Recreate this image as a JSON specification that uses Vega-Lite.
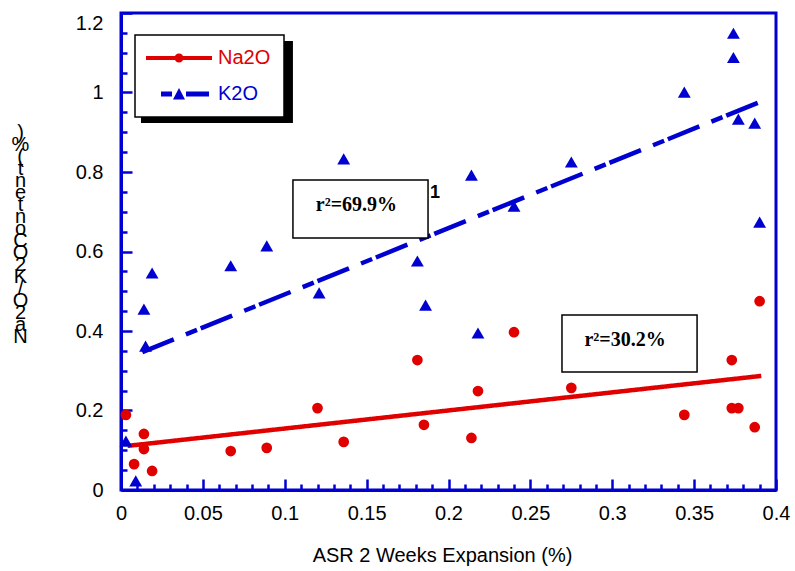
{
  "$schema": "https://vega.github.io/schema/vega-lite/v6.json",
  "width": 655,
  "height": 477,
  "autosize": "none",
  "padding": {"left": 121, "top": 13, "right": 19, "bottom": 81},
  "background": "white",
  "config": {
    "view": {"stroke": "#0000d0", "strokeWidth": 3},
    "font": "Liberation Sans"
  },
  "datasets": {
    "pts": [
      {"x": 0.003, "y": 0.189, "series": "Na2O"},
      {"x": 0.008, "y": 0.065, "series": "Na2O"},
      {"x": 0.014, "y": 0.141, "series": "Na2O"},
      {"x": 0.014, "y": 0.103, "series": "Na2O"},
      {"x": 0.019, "y": 0.048, "series": "Na2O"},
      {"x": 0.067, "y": 0.098, "series": "Na2O"},
      {"x": 0.089, "y": 0.106, "series": "Na2O"},
      {"x": 0.120, "y": 0.206, "series": "Na2O"},
      {"x": 0.136, "y": 0.121, "series": "Na2O"},
      {"x": 0.181, "y": 0.327, "series": "Na2O"},
      {"x": 0.185, "y": 0.164, "series": "Na2O"},
      {"x": 0.214, "y": 0.131, "series": "Na2O"},
      {"x": 0.218, "y": 0.249, "series": "Na2O"},
      {"x": 0.240, "y": 0.397, "series": "Na2O"},
      {"x": 0.275, "y": 0.257, "series": "Na2O"},
      {"x": 0.344, "y": 0.189, "series": "Na2O"},
      {"x": 0.373, "y": 0.327, "series": "Na2O"},
      {"x": 0.373, "y": 0.206, "series": "Na2O"},
      {"x": 0.377, "y": 0.206, "series": "Na2O"},
      {"x": 0.387, "y": 0.158, "series": "Na2O"},
      {"x": 0.390, "y": 0.475, "series": "Na2O"},
      {"x": 0.003, "y": 0.123, "series": "K2O"},
      {"x": 0.009, "y": 0.023, "series": "K2O"},
      {"x": 0.015, "y": 0.362, "series": "K2O"},
      {"x": 0.014, "y": 0.455, "series": "K2O"},
      {"x": 0.019, "y": 0.546, "series": "K2O"},
      {"x": 0.067, "y": 0.564, "series": "K2O"},
      {"x": 0.089, "y": 0.614, "series": "K2O"},
      {"x": 0.121, "y": 0.496, "series": "K2O"},
      {"x": 0.136, "y": 0.833, "series": "K2O"},
      {"x": 0.181, "y": 0.576, "series": "K2O"},
      {"x": 0.186, "y": 0.465, "series": "K2O"},
      {"x": 0.214, "y": 0.792, "series": "K2O"},
      {"x": 0.218, "y": 0.395, "series": "K2O"},
      {"x": 0.240, "y": 0.714, "series": "K2O"},
      {"x": 0.275, "y": 0.825, "series": "K2O"},
      {"x": 0.344, "y": 1.001, "series": "K2O"},
      {"x": 0.374, "y": 1.149, "series": "K2O"},
      {"x": 0.374, "y": 1.088, "series": "K2O"},
      {"x": 0.377, "y": 0.933, "series": "K2O"},
      {"x": 0.387, "y": 0.923, "series": "K2O"},
      {"x": 0.390, "y": 0.674, "series": "K2O"}
    ],
    "fit": [
      {"x": 0.004, "y": 0.111, "series": "Na2O"},
      {"x": 0.391, "y": 0.287, "series": "Na2O"},
      {"x": 0.013, "y": 0.347, "series": "K2O"},
      {"x": 0.390, "y": 0.976, "series": "K2O"}
    ],
    "shadow": [
      {"x": 0.0122, "x2": 0.1050, "y": 1.1296, "y2": 0.9233}
    ],
    "boxes": [
      {"x": 0.105, "x2": 0.1875, "y": 0.780, "y2": 0.634},
      {"x": 0.2693, "x2": 0.3518, "y": 0.440, "y2": 0.297}
    ],
    "rlabels": [
      {"x": 0.1438, "y": 0.717, "text": "r²=69.9%"},
      {"x": 0.3078, "y": 0.377, "text": "r²=30.2%"}
    ],
    "ones": [
      {"x": 0.1918, "y": 0.747, "text": "1"}
    ]
  },
  "encoding": {
    "x": {
      "field": "x",
      "type": "quantitative",
      "scale": {"domain": [0, 0.4], "nice": false, "zero": false},
      "axis": {
        "values": [0, 0.01, 0.02, 0.03, 0.04, 0.05, 0.06, 0.07, 0.08, 0.09, 0.1, 0.11, 0.12, 0.13, 0.14, 0.15, 0.16, 0.17, 0.18, 0.19, 0.2, 0.21, 0.22, 0.23, 0.24, 0.25, 0.26, 0.27, 0.28, 0.29, 0.3, 0.31, 0.32, 0.33, 0.34, 0.35, 0.36, 0.37, 0.38, 0.39, 0.4],
        "title": "ASR 2 Weeks Expansion (%)",
        "grid": false,
        "domainColor": "#0000d0",
        "domainWidth": 3,
        "tickColor": "#0000d0",
        "tickWidth": 2.5,
        "tickSize": {"condition": {"test": "round(datum.value*100) % 5 === 0", "value": -11}, "value": -6},
        "labelExpr": "round(datum.value*100) % 5 === 0 ? format(datum.value, '~g') : ''",
        "labelFont": "Liberation Sans",
        "labelFontSize": 20,
        "labelColor": "black",
        "labelPadding": 24.5,
        "labelFlush": false,
        "labelOverlap": false,
        "titleFont": "Liberation Sans",
        "titleFontSize": 20,
        "titleFontWeight": "normal",
        "titleColor": "black",
        "titleBaseline": "top",
        "titleX": 321,
        "titleY": 55
      }
    },
    "y": {
      "field": "y",
      "type": "quantitative",
      "scale": {"domain": [0, 1.2], "nice": false, "zero": false},
      "axis": {
        "values": [0, 0.05, 0.1, 0.15, 0.2, 0.25, 0.3, 0.35, 0.4, 0.45, 0.5, 0.55, 0.6, 0.65, 0.7, 0.75, 0.8, 0.85, 0.9, 0.95, 1, 1.05, 1.1, 1.15, 1.2],
        "title": [")", "%", "(", "t", "n", "e", "t", "n", "o", "C", "O", "\u00a0\u00a0\u00a02", "K", "/", "O", "\u00a0\u00a0\u00a02", "a", "N"],
        "grid": false,
        "domainColor": "#0000d0",
        "domainWidth": 3,
        "tickColor": "#0000d0",
        "tickWidth": 2.5,
        "tickSize": {"condition": {"test": "round(datum.value*20) % 4 === 0", "value": -11}, "value": -6},
        "labelExpr": "round(datum.value*20) % 4 === 0 ? format(datum.value, '~g') : ''",
        "labelBaseline": {"condition": {"test": "datum.value > 1.19", "value": "top"}, "value": "middle"},
        "labelFont": "Liberation Sans",
        "labelFontSize": 20,
        "labelColor": "black",
        "labelPadding": 29,
        "labelFlush": false,
        "labelOverlap": false,
        "titleFont": "Liberation Sans",
        "titleFontSize": 20,
        "titleFontWeight": "normal",
        "titleColor": "black",
        "titleAngle": 0,
        "titleAlign": "center",
        "titleBaseline": "top",
        "titleLineHeight": 12,
        "titleX": -101,
        "titleY": 109
      }
    }
  },
  "layer": [
    {
      "data": {"name": "shadow"},
      "mark": {"type": "rect", "color": "black"},
      "encoding": {"x2": {"field": "x2"}, "y2": {"field": "y2"}}
    },
    {
      "data": {"name": "fit"},
      "mark": {"type": "line", "strokeWidth": 4.5, "strokeCap": "butt"},
      "encoding": {
        "color": {
          "field": "series",
          "type": "nominal",
          "scale": {"domain": ["Na2O", "K2O"], "range": ["#e00000", "#0000d0"]},
          "legend": {
            "title": null,
            "orient": "none",
            "legendX": 14,
            "legendY": 22,
            "padding": 13,
            "fillColor": "white",
            "strokeColor": "black",
            "symbolSize": 400,
            "symbolOffset": 21,
            "symbolStrokeWidth": 0,
            "labelOffset": 29,
            "rowPadding": 16,
            "labelFont": "Liberation Sans",
            "labelFontSize": 20,
            "encode": {
              "legend": {
                "update": {
                  "strokeWidth": {"value": 1.5}
                }
              },
              "symbols": {
                "update": {
                  "shape": {"signal": "datum.value === 'Na2O' ? 'M-3.3,-0.2H3.3V0.2H-3.3Z M0.45,0A0.45,0.45,0,1,1,-0.45,0A0.45,0.45,0,1,1,0.45,0Z' : 'M-1.8,-0.25H-0.7V0.25H-1.8Z M-0.6,0.55L0,-0.6L0.6,0.55Z M0.7,-0.25H3V0.25H0.7Z'"},
                  "fill": {"signal": "datum.value === 'Na2O' ? '#e00000' : '#0000d0'"},
                  "stroke": {"value": "transparent"},
                  "strokeWidth": {"value": 0},
                  "strokeDash": {"value": [1, 0]},
                  "opacity": {"value": 1}
                }
              },
              "labels": {
                "update": {
                  "fill": {"signal": "datum.value === 'Na2O' ? '#e00000' : '#0000d0'"}
                }
              }
            }
          }
        },
        "strokeDash": {"field": "series", "type": "nominal", "scale": {"domain": ["Na2O", "K2O"], "range": [[1, 0], [34, 13, 12, 4]]}, "legend": null}
      }
    },
    {
      "data": {"name": "pts"},
      "transform": [{"filter": "datum.series === 'Na2O'"}],
      "mark": {"type": "point", "filled": true, "opacity": 1, "size": 115, "shape": "circle", "color": "#e00000"}
    },
    {
      "data": {"name": "pts"},
      "transform": [{"filter": "datum.series === 'K2O'"}],
      "mark": {"type": "point", "filled": true, "opacity": 1, "size": 165, "shape": "triangle-up", "color": "#0000d0"}
    },
    {
      "data": {"name": "boxes"},
      "mark": {"type": "rect", "fill": "white", "stroke": "black", "strokeWidth": 1.5},
      "encoding": {"x2": {"field": "x2"}, "y2": {"field": "y2"}}
    },
    {
      "data": {"name": "rlabels"},
      "mark": {"type": "text", "font": "Liberation Serif", "fontWeight": "bold", "fontSize": 20, "color": "black", "align": "center", "baseline": "middle"},
      "encoding": {"text": {"field": "text", "type": "nominal"}}
    },
    {
      "data": {"name": "ones"},
      "mark": {"type": "text", "font": "Liberation Sans", "fontWeight": "bold", "fontSize": 18, "color": "black", "align": "center", "baseline": "middle"},
      "encoding": {"text": {"field": "text", "type": "nominal"}}
    }
  ]
}
